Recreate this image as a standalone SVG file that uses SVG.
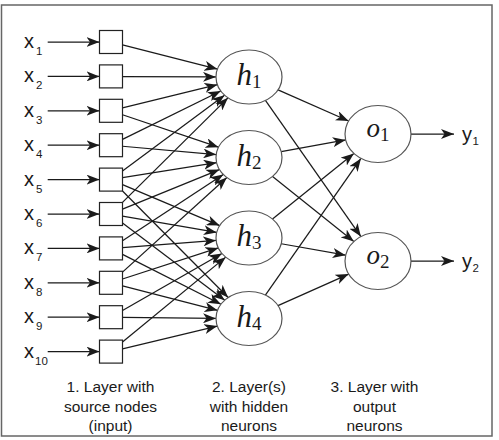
<svg xmlns="http://www.w3.org/2000/svg" width="499" height="440" viewBox="0 0 499 440">
<defs>
<marker id="ah" markerUnits="userSpaceOnUse" markerWidth="13" markerHeight="10" viewBox="0 0 13 10" refX="13" refY="5" orient="auto">
<path d="M0,0 L13,5 L0,10 L3.5,5 Z" fill="#1a1a1a"/>
</marker>
</defs>
<style>
.box{fill:#fff;stroke:#222;stroke-width:1.2}
.neu{fill:#fff;stroke:#555;stroke-width:1.2}
.c{stroke:#1a1a1a;stroke-width:1.25;fill:none;marker-end:url(#ah)}
.lab{font-family:"Liberation Sans",Arial,sans-serif;fill:#1a1a1a}
.x{font-size:20px}
.s{font-size:11.5px}
.mi{font-family:"Liberation Serif","Times New Roman",serif;font-style:italic;fill:#1a1a1a}
.mn{font-family:"Liberation Serif","Times New Roman",serif;fill:#1a1a1a;font-size:19px}
.cap{font-family:"Liberation Sans",Arial,sans-serif;font-size:15.5px;fill:#1a1a1a;text-anchor:middle}
</style>
<rect x="0" y="0" width="499" height="440" fill="#fff"/>
<rect x="1.5" y="5" width="490.5" height="431" fill="none" stroke="#666" stroke-width="1.5"/>

<g id="connectors">
<line class="c" x1="47.7" y1="42" x2="99.5" y2="42"/>
<line class="c" x1="47.7" y1="76.4" x2="99.5" y2="76.4"/>
<line class="c" x1="47.7" y1="110.8" x2="99.5" y2="110.8"/>
<line class="c" x1="47.7" y1="145.2" x2="99.5" y2="145.2"/>
<line class="c" x1="47.7" y1="179.6" x2="99.5" y2="179.6"/>
<line class="c" x1="47.7" y1="214" x2="99.5" y2="214"/>
<line class="c" x1="47.7" y1="248.4" x2="99.5" y2="248.4"/>
<line class="c" x1="47.7" y1="282.8" x2="99.5" y2="282.8"/>
<line class="c" x1="47.7" y1="317.2" x2="99.5" y2="317.2"/>
<line class="c" x1="47.7" y1="351.6" x2="99.5" y2="351.6"/>
<line class="c" x1="122.5" y1="44.98" x2="217.47" y2="69.02"/>
<line class="c" x1="122.5" y1="76.7" x2="216" y2="76.9"/>
<line class="c" x1="122.5" y1="107.93" x2="217.38" y2="84.73"/>
<line class="c" x1="122.5" y1="139.4" x2="220.74" y2="90.94"/>
<line class="c" x1="122.5" y1="170.88" x2="224.56" y2="95.14"/>
<line class="c" x1="122.5" y1="202.35" x2="227.99" y2="97.82"/>
<line class="c" x1="122.5" y1="114.77" x2="218.5" y2="147.2"/>
<line class="c" x1="122.5" y1="146.25" x2="216.19" y2="154.58"/>
<line class="c" x1="122.5" y1="177.72" x2="216.61" y2="162.68"/>
<line class="c" x1="122.5" y1="209.2" x2="219.48" y2="169.57"/>
<line class="c" x1="122.5" y1="240.67" x2="223.28" y2="174.41"/>
<line class="c" x1="122.5" y1="272.15" x2="226.89" y2="177.54"/>
<line class="c" x1="122.5" y1="184.56" x2="219.68" y2="225.61"/>
<line class="c" x1="122.5" y1="216.04" x2="216.72" y2="232.4"/>
<line class="c" x1="122.5" y1="247.52" x2="216.14" y2="240.47"/>
<line class="c" x1="122.5" y1="278.99" x2="218.32" y2="247.94"/>
<line class="c" x1="122.5" y1="310.47" x2="221.97" y2="253.49"/>
<line class="c" x1="122.5" y1="341.94" x2="225.72" y2="257.13"/>
<line class="c" x1="122.5" y1="191" x2="228.16" y2="297.56"/>
<line class="c" x1="122.5" y1="222.88" x2="224.76" y2="300.18"/>
<line class="c" x1="122.5" y1="254.36" x2="220.95" y2="304.28"/>
<line class="c" x1="122.5" y1="285.83" x2="217.53" y2="310.37"/>
<line class="c" x1="122.5" y1="317.3" x2="216" y2="318.45"/>
<line class="c" x1="122.5" y1="348.79" x2="217.33" y2="326.08"/>
<line class="c" x1="278.04" y1="89.83" x2="348.62" y2="121.02"/>
<line class="c" x1="265.42" y1="100.42" x2="360.91" y2="236.62"/>
<line class="c" x1="281.21" y1="151.63" x2="345.71" y2="139.88"/>
<line class="c" x1="272.56" y1="176.4" x2="353.82" y2="241.6"/>
<line class="c" x1="272.51" y1="219.05" x2="353.88" y2="153.45"/>
<line class="c" x1="281.24" y1="243.75" x2="345.68" y2="255.24"/>
<line class="c" x1="265.39" y1="295.06" x2="360.94" y2="158.4"/>
<line class="c" x1="277.98" y1="305.58" x2="348.68" y2="274.07"/>
<line class="c" x1="411" y1="134" x2="454" y2="134"/>
<line class="c" x1="411" y1="261" x2="454" y2="261"/>
</g>

<g id="input-labels" class="lab">
<text class="x" x="24" y="48">x<tspan class="s" x="36" y="55">1</tspan></text>
<text class="x" x="24" y="82.4">x<tspan class="s" x="36" y="89.4">2</tspan></text>
<text class="x" x="24" y="116.8">x<tspan class="s" x="36" y="123.8">3</tspan></text>
<text class="x" x="24" y="151.2">x<tspan class="s" x="36" y="158.2">4</tspan></text>
<text class="x" x="24" y="185.6">x<tspan class="s" x="36" y="192.6">5</tspan></text>
<text class="x" x="24" y="220">x<tspan class="s" x="36" y="227">6</tspan></text>
<text class="x" x="24" y="254.4">x<tspan class="s" x="36" y="261.4">7</tspan></text>
<text class="x" x="24" y="288.8">x<tspan class="s" x="36" y="295.8">8</tspan></text>
<text class="x" x="24" y="323.2">x<tspan class="s" x="36" y="330.2">9</tspan></text>
<text class="x" x="24" y="357.6">x<tspan class="s" x="35" y="364.6">10</tspan></text>
</g>

<g id="in1"><rect class="box" x="99.5" y="30.5" width="23" height="23"/></g>
<g id="in2"><rect class="box" x="99.5" y="64.9" width="23" height="23"/></g>
<g id="in3"><rect class="box" x="99.5" y="99.3" width="23" height="23"/></g>
<g id="in4"><rect class="box" x="99.5" y="133.7" width="23" height="23"/></g>
<g id="in5"><rect class="box" x="99.5" y="168.1" width="23" height="23"/></g>
<g id="in6"><rect class="box" x="99.5" y="202.5" width="23" height="23"/></g>
<g id="in7"><rect class="box" x="99.5" y="236.9" width="23" height="23"/></g>
<g id="in8"><rect class="box" x="99.5" y="271.3" width="23" height="23"/></g>
<g id="in9"><rect class="box" x="99.5" y="305.7" width="23" height="23"/></g>
<g id="in10"><rect class="box" x="99.5" y="340.1" width="23" height="23"/></g>

<g id="h1"><ellipse class="neu" cx="249" cy="77" rx="33" ry="27"/>
<text x="249" y="85" text-anchor="middle"><tspan class="mi" font-size="31">h</tspan><tspan class="mn" dy="3">1</tspan></text></g>
<g id="h2"><ellipse class="neu" cx="249" cy="157.5" rx="33" ry="27"/>
<text x="249" y="165.5" text-anchor="middle"><tspan class="mi" font-size="31">h</tspan><tspan class="mn" dy="3">2</tspan></text></g>
<g id="h3"><ellipse class="neu" cx="249" cy="238" rx="33" ry="27"/>
<text x="249" y="246" text-anchor="middle"><tspan class="mi" font-size="31">h</tspan><tspan class="mn" dy="3">3</tspan></text></g>
<g id="h4"><ellipse class="neu" cx="249" cy="318.5" rx="33" ry="27"/>
<text x="249" y="326.5" text-anchor="middle"><tspan class="mi" font-size="31">h</tspan><tspan class="mn" dy="3">4</tspan></text></g>

<g id="o1"><ellipse class="neu" cx="378" cy="134" rx="33" ry="28.5"/>
<text x="378" y="137" text-anchor="middle"><tspan class="mi" font-size="27">o</tspan><tspan class="mn" dy="4">1</tspan></text></g>
<g id="o2"><ellipse class="neu" cx="378" cy="261" rx="33" ry="28.5"/>
<text x="378" y="264" text-anchor="middle"><tspan class="mi" font-size="27">o</tspan><tspan class="mn" dy="4">2</tspan></text></g>

<g id="output-labels" class="lab">
<text class="x" x="462" y="141">y<tspan class="s" x="472.5" y="145">1</tspan></text>
<text class="x" x="462" y="268">y<tspan class="s" x="472.5" y="272">2</tspan></text>
</g>

<g id="captions">
<text class="cap" x="110.5" y="391.5">1. Layer with</text>
<text class="cap" x="110.5" y="411.5">source nodes</text>
<text class="cap" x="110.5" y="431">(input)</text>
<text class="cap" x="249" y="391.5">2. Layer(s)</text>
<text class="cap" x="249" y="411.5">with hidden</text>
<text class="cap" x="249" y="431">neurons</text>
<text class="cap" x="374.5" y="391.5">3. Layer with</text>
<text class="cap" x="374.5" y="411.5">output</text>
<text class="cap" x="374.5" y="431">neurons</text>
</g>
</svg>
